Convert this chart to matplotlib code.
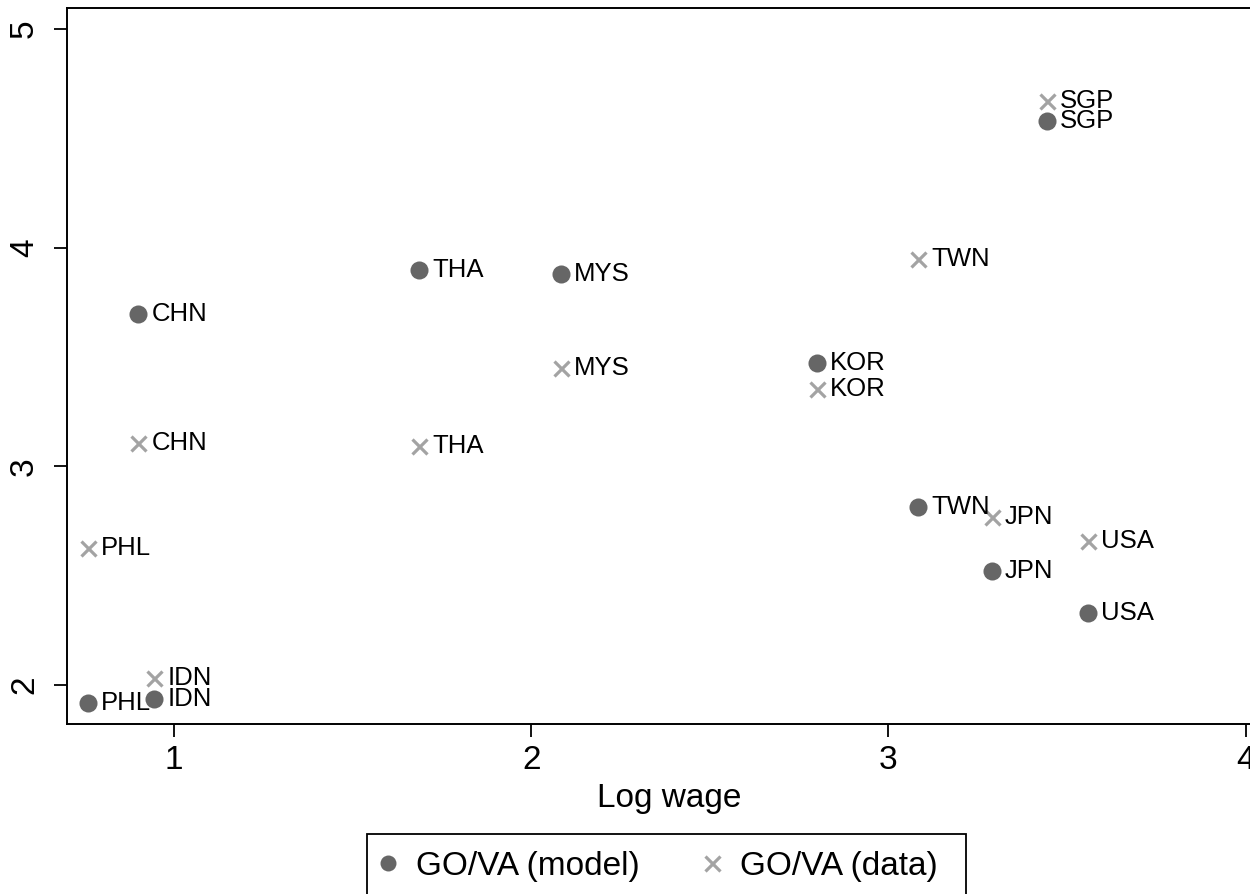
import matplotlib
matplotlib.use("Agg")
import matplotlib.pyplot as plt
from matplotlib.lines import Line2D
from matplotlib.patches import Rectangle

plt.rcParams['font.family'] = ['Liberation Sans', 'DejaVu Sans']

countries = ["PHL", "IDN", "CHN", "THA", "MYS", "KOR", "TWN", "JPN", "USA", "SGP"]
log_wage = [0.760, 0.945, 0.900, 1.687, 2.084, 2.799, 3.083, 3.289, 3.559, 3.443]
go_va_model = [1.919, 1.936, 3.695, 3.898, 3.880, 3.471, 2.815, 2.523, 2.331, 4.581]
go_va_data = [2.627, 2.031, 3.105, 3.093, 3.450, 3.354, 3.947, 2.767, 2.659, 4.672]

xticks = [1, 2, 3, 4]
yticks = [2, 3, 4, 5]

W, H = 1250, 894
fig = plt.figure(figsize=(W / 100, H / 100), dpi=100)
ax = fig.add_axes([67 / W, 1 - 724 / H, (1252 - 67) / W, (724 - 8) / H])

c_model = '#666666'
c_data = '#a3a3a3'

ax.plot(log_wage, go_va_model, linestyle='none', marker='o', markersize=13,
        color=c_model, markeredgewidth=0, zorder=3)
ax.plot(log_wage, go_va_data, linestyle='none', marker='x', markersize=10.8,
        color=c_data, markeredgewidth=2.3, zorder=3)

for x, ym, yd, name in zip(log_wage, go_va_model, go_va_data, countries):
    ax.annotate(name, (x, ym), xytext=(13, 0), textcoords='offset pixels',
                va='center', ha='left', fontsize=18.5, color='black', zorder=4)
    ax.annotate(name, (x, yd), xytext=(13, 0), textcoords='offset pixels',
                va='center', ha='left', fontsize=18.5, color='black', zorder=4)

ax.set_xlim(0.7005, 4.0176)
ax.set_ylim(1.8217, 5.096)
ax.set_xticks(xticks)
ax.set_yticks(yticks)
ax.set_xticklabels([str(t) for t in xticks], fontsize=24)
ax.set_yticklabels([str(t) for t in yticks], fontsize=24, rotation=90, va='center')
ax.tick_params(axis='both', direction='out', length=9.5, width=1.3, color='black')
ax.tick_params(axis='x', pad=5.5)
ax.tick_params(axis='y', pad=10)
ax.spines['right'].set_visible(False)
for s in ['left', 'bottom', 'top']:
    ax.spines[s].set_linewidth(1.4)
ax.set_xlabel('Log wage', fontsize=24)
ax.xaxis.set_label_coords((669 - 67) / 1185, -0.082)

# legend frame (Stata-style box, bottom runs off the canvas)
fig.patches.append(Rectangle((367 / W, 1 - 897 / H), (966 - 367) / W, (897 - 834) / H,
                             transform=fig.transFigure, fill=False,
                             edgecolor='black', linewidth=1.3))

handles = [
    Line2D([], [], marker='o', linestyle='none', color=c_model, markersize=11.5, markeredgewidth=0),
    Line2D([], [], marker='x', linestyle='none', color=c_data, markersize=10.8, markeredgewidth=2.3),
]
fs = 24
hl = 0.76
leg = fig.legend(handles, ['GO/VA (model)', 'GO/VA (data)'], loc='center left',
                 bbox_to_anchor=((388 - hl * fs * 100 / 72 / 2) / W, 1 - 866 / H),
                 ncol=2, fontsize=fs, frameon=False,
                 handletextpad=0.45, columnspacing=1.81, handlelength=hl,
                 borderpad=0, borderaxespad=0)

fig.savefig('out.png', dpi=100, facecolor='white')
